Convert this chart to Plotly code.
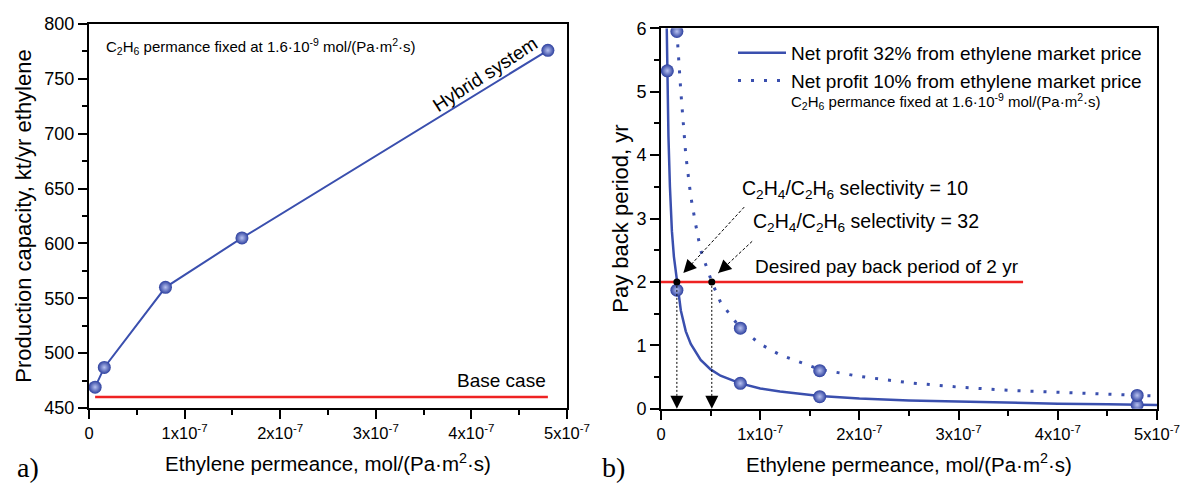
import plotly.graph_objects as go

# ---------------- data ----------------
# Panel a: production capacity vs ethylene permeance
perm_a = [6.4e-9, 1.6e-8, 8.0e-8, 1.6e-7, 4.8e-7]
capacity = [469, 487, 560, 605, 776]
base_case_x = [6.4e-9, 4.8e-7]
base_case_y = [460, 460]

# Panel b: pay back period
perm_b = [6.4e-9, 1.6e-8, 8.0e-8, 1.6e-7, 4.8e-7]
payback_32 = [5.33, 1.87, 0.40, 0.19, 0.06]
payback_10 = [None, 5.95, 1.27, 0.60, 0.21]

# smooth curves
curve32_x = [5.8e-9, 6.4e-9, 7.5e-9, 9e-9, 1.1e-8, 1.3e-8, 1.65e-8, 2e-8, 2.5e-8, 3e-8,
             4e-8, 5e-8, 6e-8, 8e-8, 1e-7, 1.2e-7, 1.6e-7, 2e-7, 2.5e-7, 3e-7,
             3.5e-7, 4e-7, 4.5e-7, 5e-7]
curve32_y = [6.0, 5.3, 4.3, 3.5, 2.8, 2.4, 2.0, 1.55, 1.22, 1.02,
             0.77, 0.62, 0.52, 0.40, 0.32, 0.27, 0.20, 0.16, 0.13, 0.11,
             0.095, 0.08, 0.07, 0.06]
curve10_x = [1.6e-8, 2e-8, 2.5e-8, 3e-8, 3.5e-8, 4e-8, 5.12e-8, 6e-8, 8e-8, 1e-7,
             1.2e-7, 1.6e-7, 2e-7, 2.5e-7, 3e-7, 3.5e-7, 4e-7, 4.5e-7, 5e-7]
curve10_y = [5.95, 5.0, 4.0, 3.35, 2.9, 2.5, 2.0, 1.68, 1.27, 1.02,
             0.85, 0.62, 0.51, 0.41, 0.34, 0.29, 0.26, 0.23, 0.20]

desired_x = [0, 3.65e-7]
desired_y = [2, 2]
cross_x = [1.6e-8, 5.12e-8]
cross_y = [2, 2]

x_tickvals = [0, 1e-7, 2e-7, 3e-7, 4e-7, 5e-7]
x_ticktext = ["0", "1x10<sup>-7</sup>", "2x10<sup>-7</sup>", "3x10<sup>-7</sup>",
              "4x10<sup>-7</sup>", "5x10<sup>-7</sup>"]
x_minorvals = [0.5e-7, 1.5e-7, 2.5e-7, 3.5e-7, 4.5e-7]

# ---------------- style ----------------
BLUE = "#3a4fae"
MARK = "#2c3f9e"
RED = "#ee2222"
FONT = "Liberation Sans, Arial, sans-serif"
SERIF = "Liberation Serif, Times New Roman, serif"

W, H = 1182, 486
def px_x(p): return p / W
def px_y(p): return 1 - p / H

fig = go.Figure()

marker_style = dict(size=13, color=MARK,
                    gradient=dict(type="radial", color="#b8c2f0"),
                    line=dict(width=0))

# panel a
fig.add_trace(go.Scatter(x=base_case_x, y=base_case_y, mode="lines",
                         line=dict(color=RED, width=2.5), showlegend=False,
                         xaxis="x", yaxis="y"))
fig.add_trace(go.Scatter(x=perm_a, y=capacity, mode="lines+markers",
                         line=dict(color=BLUE, width=2), marker=marker_style,
                         showlegend=False, xaxis="x", yaxis="y"))

# panel b
fig.add_trace(go.Scatter(x=curve32_x, y=curve32_y, mode="lines",
                         line=dict(color=BLUE, width=2.5),
                         name="Net profit 32% from ethylene market price",
                         xaxis="x2", yaxis="y2"))
fig.add_trace(go.Scatter(x=curve10_x, y=curve10_y, mode="lines",
                         line=dict(color=BLUE, width=3, dash="3px,10px"),
                         name="Net profit 10% from ethylene market price",
                         xaxis="x2", yaxis="y2"))
fig.add_trace(go.Scatter(x=perm_b, y=payback_32, mode="markers", marker=marker_style,
                         showlegend=False, xaxis="x2", yaxis="y2"))
fig.add_trace(go.Scatter(x=perm_b, y=payback_10, mode="markers", marker=marker_style,
                         showlegend=False, xaxis="x2", yaxis="y2"))
fig.add_trace(go.Scatter(x=desired_x, y=desired_y, mode="lines",
                         line=dict(color=RED, width=2.5), showlegend=False,
                         xaxis="x2", yaxis="y2"))
fig.add_trace(go.Scatter(x=cross_x, y=cross_y, mode="markers",
                         marker=dict(size=7, color="black"), showlegend=False,
                         xaxis="x2", yaxis="y2"))

axis_common = dict(showline=True, linecolor="black", linewidth=2, mirror=True,
                   ticks="outside", ticklen=9, tickwidth=1.5, tickcolor="black",
                   showgrid=False, zeroline=False, ticklabeloverflow="allow",
                   tickfont=dict(family=FONT, size=18, color="black"),
                   automargin=False)

xa = dict(axis_common, range=[0, 5e-7], tickmode="array", tickvals=x_tickvals,
          ticktext=x_ticktext, tickfont=dict(family=FONT, size=16.5, color="black"),
          minor=dict(tickmode="array", tickvals=x_minorvals, ticks="outside",
                     ticklen=5, tickwidth=1.5, tickcolor="black", showgrid=False),
          title=dict(text="Ethylene permeance, mol/(Pa·m<sup>2</sup>·s)",
                     font=dict(family=FONT, size=20.5, color="black"), standoff=16))

fig.update_layout(
    width=W, height=H, margin=dict(l=0, r=0, t=0, b=0),
    paper_bgcolor="white", plot_bgcolor="white",
    font=dict(family=FONT, color="black"),
    xaxis=dict(xa, domain=[px_x(89), px_x(567)], anchor="y"),
    yaxis=dict(axis_common, domain=[px_y(408), px_y(24)], anchor="x",
               range=[450, 800], dtick=50, tick0=450,
               minor=dict(dtick=25, ticks="outside", ticklen=5, tickwidth=1.5,
                          tickcolor="black", showgrid=False),
               title=dict(text="Production capacity, kt/yr ethylene",
                          font=dict(family=FONT, size=22, color="black"), standoff=7)),
    xaxis2=dict(xa, domain=[px_x(661), px_x(1157)], anchor="y2"),
    yaxis2=dict(axis_common, domain=[px_y(408.7), px_y(28.3)], anchor="x2",
                range=[0, 6], dtick=1, tick0=0,
                minor=dict(dtick=0.5, ticks="outside", ticklen=5, tickwidth=1.5,
                           tickcolor="black", showgrid=False),
                title=dict(text="Pay back period, yr",
                           font=dict(family=FONT, size=22, color="black"), standoff=2)),
    legend=dict(x=px_x(733), y=px_y(34), xanchor="left", yanchor="top",
                bgcolor="rgba(0,0,0,0)", font=dict(family=FONT, size=19, color="black"),
                itemwidth=48, tracegroupgap=0),
    showlegend=True,
)

note = "C<sub>2</sub>H<sub>6</sub> permance fixed at 1.6·10<sup>-9</sup> mol/(Pa·m<sup>2</sup>·s)"
sel10 = "C<sub>2</sub>H<sub>4</sub>/C<sub>2</sub>H<sub>6</sub> selectivity = 10"
sel32 = "C<sub>2</sub>H<sub>4</sub>/C<sub>2</sub>H<sub>6</sub> selectivity = 32"

ann = [
    dict(text=note, xref="paper", yref="paper", x=px_x(104), y=px_y(46),
         xanchor="left", yanchor="middle", showarrow=False,
         font=dict(family=FONT, size=15, color="black")),
    dict(text="Hybrid system", xref="x", yref="y", x=4.14e-7, y=754, textangle=-33,
         showarrow=False, font=dict(family=FONT, size=19, color="black")),
    dict(text="Base case", xref="x", yref="y", x=4.8e-7, y=475, xanchor="right",
         yanchor="middle", showarrow=False, font=dict(family=FONT, size=19, color="black")),
    dict(text="a)", xref="paper", yref="paper", x=px_x(28), y=px_y(467), showarrow=False,
         xanchor="center", yanchor="middle",
         font=dict(family=SERIF, size=28, color="black")),
    dict(text="b)", xref="paper", yref="paper", x=px_x(613), y=px_y(467), showarrow=False,
         xanchor="center", yanchor="middle",
         font=dict(family=SERIF, size=28, color="black")),
    dict(text=note, xref="paper", yref="paper", x=px_x(789), y=px_y(101),
         xanchor="left", yanchor="middle", showarrow=False,
         font=dict(family=FONT, size=15, color="black")),
    dict(text=sel10, xref="x2", yref="y2", x=0.80e-7, y=3.46, xanchor="left",
         yanchor="middle", showarrow=False, font=dict(family=FONT, size=19.5, color="black")),
    dict(text=sel32, xref="x2", yref="y2", x=0.91e-7, y=2.93, xanchor="left",
         yanchor="middle", showarrow=False, font=dict(family=FONT, size=19.5, color="black")),
    dict(text="Desired pay back period of 2 yr", xref="x2", yref="y2", x=2.28e-7, y=2.24,
         xanchor="center", yanchor="middle", showarrow=False,
         font=dict(family=FONT, size=19, color="black")),
]

# arrowheads (short solid arrows at tips; dashed shafts as shapes)
tips = [(0.225e-7, 2.14, 0.839e-7, 3.18), (0.577e-7, 2.14, 0.919e-7, 2.64)]
shapes = []
for tx, ty, sx, sy in tips:
    shapes.append(dict(type="line", xref="x2", yref="y2", x0=sx, y0=sy, x1=tx, y1=ty,
                       line=dict(color="black", width=1, dash="3px,2px")))
    dxp = (sx - tx) / 1e-7 * 99.3
    dyp = -(sy - ty) * 63.4
    L = (dxp ** 2 + dyp ** 2) ** 0.5
    ann.append(dict(text="", xref="x2", yref="y2", x=tx, y=ty, ax=dxp / L * 12,
                    ay=dyp / L * 12, showarrow=True, arrowhead=2, arrowsize=2.6,
                    arrowwidth=1, arrowcolor="black"))
for cx in cross_x:
    shapes.append(dict(type="line", xref="x2", yref="y2", x0=cx, y0=2, x1=cx, y1=0.15,
                       line=dict(color="black", width=1, dash="2px,2px")))
    ann.append(dict(text="", xref="x2", yref="y2", x=cx, y=0, ax=0, ay=-13,
                    showarrow=True, arrowhead=2, arrowsize=2.6, arrowwidth=1,
                    arrowcolor="black"))

fig.update_layout(annotations=ann, shapes=shapes)
fig.write_html("out.html", config={"displayModeBar": False},
               post_script="document.body.style.margin='0';"
                           "document.body.style.overflow='hidden';")
